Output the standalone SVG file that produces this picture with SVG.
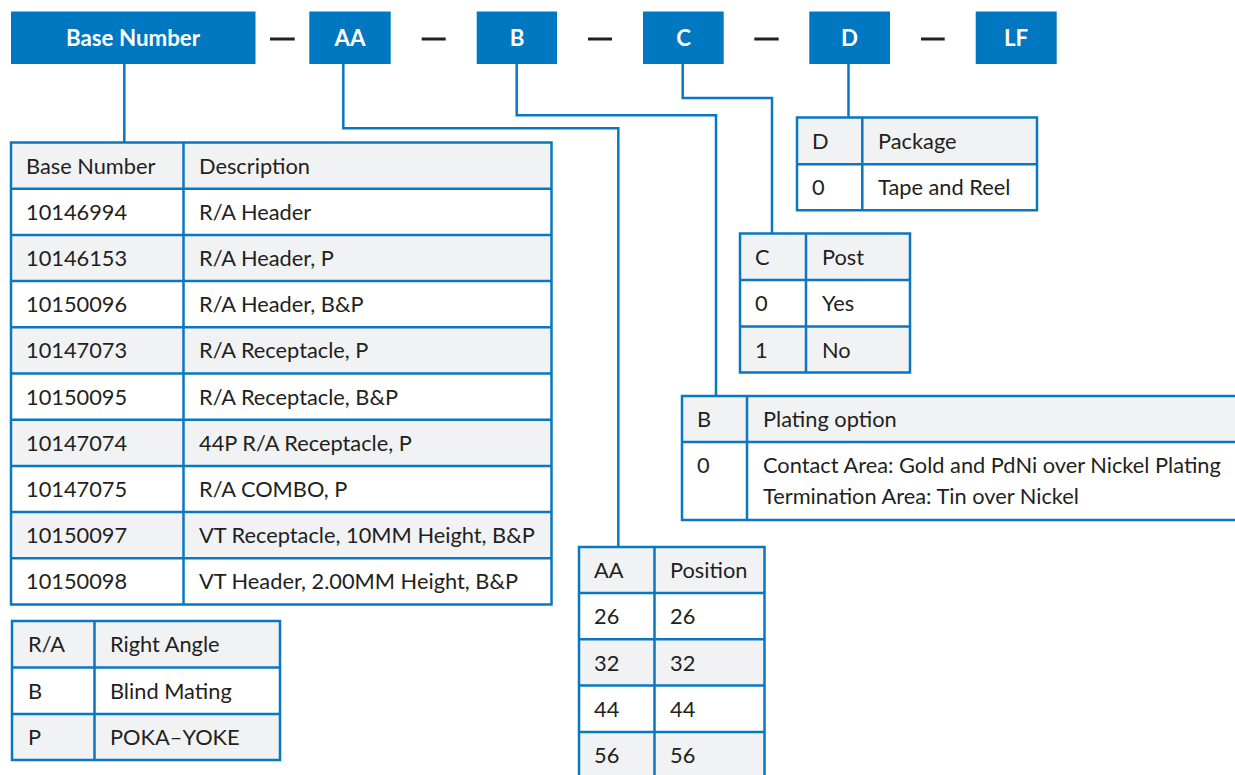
<svg xmlns="http://www.w3.org/2000/svg" width="1235" height="775" viewBox="0 0 1235 775">
<style>
.box{fill:#0077c1}
.bt{font-family:Lato,"Liberation Sans",sans-serif;font-weight:bold;font-size:22.3px;fill:#fff;text-anchor:middle}
.dash{stroke:#231f20;stroke-width:3}
.con{fill:none;stroke:#0a78c0;stroke-width:2.5}
.g{fill:#f1f2f4}
.w{fill:#fff}
.grid{fill:none;stroke:#0a78c0;stroke-width:2.5}
.t{font-family:Lato,"Liberation Sans",sans-serif;font-size:21.8px;fill:#231f20}
</style>
<rect width="1235" height="775" fill="#fff"/>
<g id="header">
<g id="hdr-base"><rect class="box" x="11" y="11.5" width="244.5" height="52.5"/><text class="bt" x="133" y="46">Base Number</text></g>
<g id="hdr-aa"><rect class="box" x="309.3" y="11.5" width="81.4" height="52.5"/><text class="bt" x="350" y="46">AA</text></g>
<g id="hdr-b"><rect class="box" x="476.7" y="11.5" width="80.3" height="52.5"/><text class="bt" x="517" y="46">B</text></g>
<g id="hdr-c"><rect class="box" x="643" y="11.5" width="80.7" height="52.5"/><text class="bt" x="683.5" y="46">C</text></g>
<g id="hdr-d"><rect class="box" x="809.3" y="11.5" width="80.7" height="52.5"/><text class="bt" x="849.5" y="46">D</text></g>
<g id="hdr-lf"><rect class="box" x="975.7" y="11.5" width="81" height="52.5"/><text class="bt" x="1016" y="46">LF</text></g>
<line class="dash" x1="270" y1="39" x2="294.7" y2="39"/>
<line class="dash" x1="421.7" y1="39" x2="445.7" y2="39"/>
<line class="dash" x1="588" y1="39" x2="612" y2="39"/>
<line class="dash" x1="754.3" y1="39" x2="778.7" y2="39"/>
<line class="dash" x1="921" y1="39" x2="944.7" y2="39"/>
</g>
<g id="connectors">
<path class="con" d="M124.3 64V142.5"/>
<path class="con" d="M343.3 64V128.3H618.3V547"/>
<path class="con" d="M516.7 64V115.3H716V396"/>
<path class="con" d="M682.7 64V98H772V233.5"/>
<path class="con" d="M848.5 64V117.5"/>
</g>
<g id="base-table">
<rect class="g" x="11" y="142.5" width="540.5" height="46.2"/>
<rect class="w" x="11" y="188.7" width="540.5" height="46.2"/>
<rect class="g" x="11" y="234.9" width="540.5" height="46.2"/>
<rect class="w" x="11" y="281.1" width="540.5" height="46.2"/>
<rect class="g" x="11" y="327.3" width="540.5" height="46.2"/>
<rect class="w" x="11" y="373.5" width="540.5" height="46.2"/>
<rect class="g" x="11" y="419.7" width="540.5" height="46.2"/>
<rect class="w" x="11" y="465.9" width="540.5" height="46.2"/>
<rect class="g" x="11" y="512.1" width="540.5" height="46.2"/>
<rect class="w" x="11" y="558.3" width="540.5" height="46.2"/>
<path class="grid" d="M11 142.5H551.5V604.5H11Z M183.5 142.5V604.5 M11 188.7H551.5 M11 234.9H551.5 M11 281.1H551.5 M11 327.3H551.5 M11 373.5H551.5 M11 419.7H551.5 M11 465.9H551.5 M11 512.1H551.5 M11 558.3H551.5"/>
<text class="t" x="26" y="173.5">Base Number</text><text class="t" x="199" y="173.5">Description</text>
<text class="t" x="26" y="219.7">10146994</text><text class="t" x="199" y="219.7">R/A Header</text>
<text class="t" x="26" y="265.9">10146153</text><text class="t" x="199" y="265.9">R/A Header, P</text>
<text class="t" x="26" y="312.1">10150096</text><text class="t" x="199" y="312.1">R/A Header, B&amp;P</text>
<text class="t" x="26" y="358.3">10147073</text><text class="t" x="199" y="358.3">R/A Receptacle, P</text>
<text class="t" x="26" y="404.5">10150095</text><text class="t" x="199" y="404.5">R/A Receptacle, B&amp;P</text>
<text class="t" x="26" y="450.7">10147074</text><text class="t" x="199" y="450.7">44P R/A Receptacle, P</text>
<text class="t" x="26" y="496.9">10147075</text><text class="t" x="199" y="496.9">R/A COMBO, P</text>
<text class="t" x="26" y="543.1">10150097</text><text class="t" x="199" y="543.1">VT Receptacle, 10MM Height, B&amp;P</text>
<text class="t" x="26" y="589.3">10150098</text><text class="t" x="199" y="589.3">VT Header, 2.00MM Height, B&amp;P</text>
</g>
<g id="legend-table">
<rect class="g" x="12" y="621" width="268" height="46.5"/>
<rect class="w" x="12" y="667.5" width="268" height="46.5"/>
<rect class="g" x="12" y="714" width="268" height="46"/>
<path class="grid" d="M12 621H280V760H12Z M94.5 621V760 M12 667.5H280 M12 714H280"/>
<text class="t" x="28" y="652">R/A</text><text class="t" x="110" y="652">Right Angle</text>
<text class="t" x="28" y="698.5">B</text><text class="t" x="110" y="698.5">Blind Mating</text>
<text class="t" x="28" y="745">P</text><text class="t" x="110" y="745">POKA–YOKE</text>
</g>
<g id="aa-table">
<rect class="g" x="579" y="547" width="185.5" height="46"/>
<rect class="w" x="579" y="593" width="185.5" height="46.3"/>
<rect class="g" x="579" y="639.3" width="185.5" height="46.3"/>
<rect class="w" x="579" y="685.6" width="185.5" height="46.3"/>
<rect class="g" x="579" y="731.9" width="185.5" height="46.3"/>
<path class="grid" d="M579 780V547H764.5V780 M654.5 547V780 M579 593H764.5 M579 639.3H764.5 M579 685.6H764.5 M579 731.9H764.5"/>
<text class="t" x="594" y="578">AA</text><text class="t" x="670" y="578">Position</text>
<text class="t" x="594" y="624.3">26</text><text class="t" x="670" y="624.3">26</text>
<text class="t" x="594" y="670.6">32</text><text class="t" x="670" y="670.6">32</text>
<text class="t" x="594" y="716.9">44</text><text class="t" x="670" y="716.9">44</text>
<text class="t" x="594" y="763.2">56</text><text class="t" x="670" y="763.2">56</text>
</g>
<g id="b-table">
<rect class="g" x="682" y="396" width="560" height="46"/>
<rect class="w" x="682" y="442" width="560" height="78"/>
<path class="grid" d="M1240 396H682V520H1240 M747 396V520 M682 442H1240"/>
<text class="t" x="697" y="427">B</text><text class="t" x="763" y="427">Plating option</text>
<text class="t" x="697" y="473">0</text><text class="t" x="763" y="473">Contact Area: Gold and PdNi over Nickel Plating</text>
<text class="t" x="763" y="504">Termination Area: Tin over Nickel</text>
</g>
<g id="c-table">
<rect class="g" x="740" y="233.5" width="170" height="46.5"/>
<rect class="w" x="740" y="280" width="170" height="46.5"/>
<rect class="g" x="740" y="326.5" width="170" height="46"/>
<path class="grid" d="M740 233.5H910V372.5H740Z M806 233.5V372.5 M740 280H910 M740 326.5H910"/>
<text class="t" x="755" y="264.5">C</text><text class="t" x="822" y="264.5">Post</text>
<text class="t" x="755" y="311">0</text><text class="t" x="822" y="311">Yes</text>
<text class="t" x="755" y="357.5">1</text><text class="t" x="822" y="357.5">No</text>
</g>
<g id="d-table">
<rect class="g" x="797" y="117.5" width="240" height="46.8"/>
<rect class="w" x="797" y="164.3" width="240" height="46"/>
<path class="grid" d="M797 117.5H1037V210.3H797Z M862.3 117.5V210.3 M797 164.3H1037"/>
<text class="t" x="812" y="148.5">D</text><text class="t" x="878" y="148.5">Package</text>
<text class="t" x="812" y="195">0</text><text class="t" x="878" y="195">Tape and Reel</text>
</g>
</svg>
